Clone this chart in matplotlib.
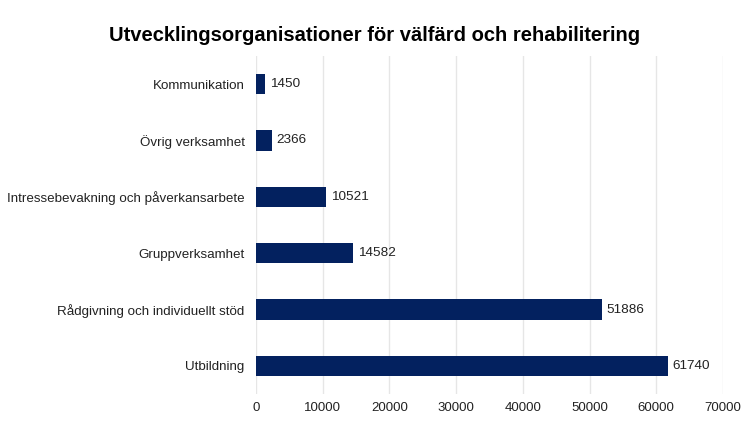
import matplotlib.pyplot as plt

# Data
categories = [
    "Kommunikation",
    "Övrig verksamhet",
    "Intressebevakning och påverkansarbete",
    "Gruppverksamhet",
    "Rådgivning och individuellt stöd",
    "Utbildning",
]
values = [1450, 2366, 10521, 14582, 51886, 61740]
x_ticks = [0, 10000, 20000, 30000, 40000, 50000, 60000, 70000]

plt.rcParams["font.family"] = ["Liberation Sans", "DejaVu Sans"]

fig = plt.figure(figsize=(7.5, 4.36), dpi=100)
ax = fig.add_axes([0.341, 0.096, 0.623, 0.776])

pos = list(range(len(categories)))
bars = ax.barh(pos, values, height=0.36, color="#03215f", zorder=3)
ax.set_ylim(len(categories) - 0.5, -0.5)
ax.set_xlim(0, 70000)
ax.set_xticks(x_ticks)
ax.set_xticklabels([str(t) for t in x_ticks], fontsize=9.5, color="#222222")
ax.set_yticks(pos)
ax.set_yticklabels(categories, fontsize=9.6, color="#222222")
ax.tick_params(axis="x", length=0, pad=6)
ax.tick_params(axis="y", length=0, pad=8)

# Value labels
for b, v in zip(bars, values):
    ax.text(b.get_width() + 700, b.get_y() + b.get_height() / 2, str(v),
            va="center", ha="left", fontsize=9.7, color="#222222")

ax.grid(axis="x", color="#e6e6e6", linewidth=1, zorder=0)
for s in ax.spines.values():
    s.set_visible(False)

fig.suptitle("Utvecklingsorganisationer för välfärd och rehabilitering",
             fontsize=14.5, fontweight="bold", x=0.5, y=0.94)

fig.savefig("out.png", dpi=100)
